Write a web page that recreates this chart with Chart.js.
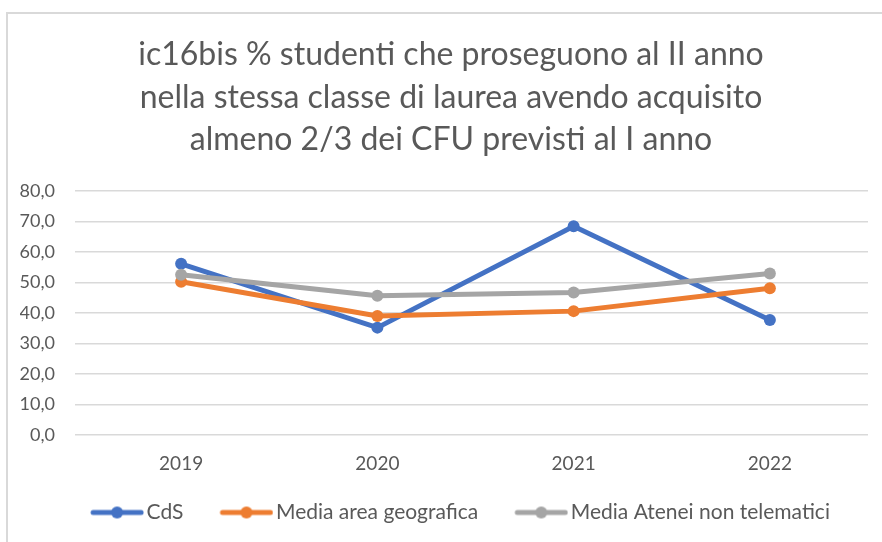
<!DOCTYPE html>
<html>
<head>
<meta charset="utf-8">
<script src="https://cdn.jsdelivr.net/npm/chart.js@4"></script>
<style>
  html, body { margin: 0; padding: 0; background: #fff; overflow: hidden; }
  #frame { position: absolute; left: 6px; top: 12px; width: 900px; height: 600px; border: 2px solid #d9d9d9; }
  #wrap { position: absolute; left: 0; top: 0; width: 882px; height: 542px; }
</style>
</head>
<body>
<div id="frame"></div>
<div id="wrap"><canvas id="ic16Chart" width="882" height="542"></canvas></div>
<script>
/* ic16bis — line chart */
var YEARS = ["2019", "2020", "2021", "2022"];
var CDS = [56.1, 35.2, 68.4, 37.7];
var MEDIA_AREA = [50.2, 39.0, 40.6, 48.1];
var MEDIA_ATENEI = [52.5, 45.6, 46.7, 52.9];
var SERIES_NAMES = ["CdS", "Media area geografica", "Media Atenei non telematici"];
var TITLE_LINES = [
  "ic16bis % studenti che proseguono al II anno",
  "nella stessa classe di laurea avendo acquisito",
  "almeno 2/3 dei CFU previsti al I anno"
];

var COLORS = { blue: "#4472c4", orange: "#ed7d31", gray: "#a5a5a5", text: "#595959", grid: "#d9d9d9" };
var FONT = "Lato, 'Liberation Sans', sans-serif";

/* legend marker: thick line with a dot, shifted right inside the image */
function legendMarker(color) {
  var c = document.createElement("canvas");
  c.width = 80; c.height = 14;
  var g = c.getContext("2d");
  g.strokeStyle = color;
  g.lineWidth = 5;
  g.lineCap = "round";
  g.beginPath(); g.moveTo(29, 7); g.lineTo(77, 7); g.stroke();
  g.fillStyle = color;
  g.beginPath(); g.arc(53, 7, 6, 0, Math.PI * 2); g.fill();
  return c;
}

function lineSet(label, data, color, order) {
  return {
    label: label, data: data, order: order,
    borderColor: color, backgroundColor: color,
    borderWidth: 5, pointRadius: 6, pointHoverRadius: 6,
    pointBackgroundColor: color, pointBorderWidth: 0,
    tension: 0, fill: false,
    legendImg: legendMarker(color)
  };
}

new Chart(document.getElementById("ic16Chart"), {
  type: "line",
  data: {
    labels: YEARS,
    datasets: [
      lineSet(SERIES_NAMES[0], CDS, COLORS.blue, 3),
      lineSet(SERIES_NAMES[1], MEDIA_AREA, COLORS.orange, 2),
      lineSet(SERIES_NAMES[2], MEDIA_ATENEI, COLORS.gray, 1)
    ]
  },
  options: {
    responsive: false,
    animation: false,
    layout: { padding: { left: 20, right: 0, top: 0, bottom: 9 } },
    plugins: {
      tooltip: { enabled: false },
      title: {
        display: true,
        text: TITLE_LINES,
        color: COLORS.text,
        font: { family: FONT, size: 32, weight: "normal", lineHeight: 1.32 },
        padding: { top: 34, bottom: 30 }
      },
      legend: {
        position: "bottom",
        align: "center",
        labels: {
          color: COLORS.text,
          font: { family: FONT, size: 21 },
          usePointStyle: true,
          pointStyleWidth: 64,
          padding: 18,
          generateLabels: function (chart) {
            var items = Chart.defaults.plugins.legend.labels.generateLabels(chart);
            items.forEach(function (it) {
              it.pointStyle = chart.data.datasets[it.datasetIndex].legendImg;
            });
            return items.sort(function (a, b) { return a.datasetIndex - b.datasetIndex; });
          }
        }
      }
    },
    scales: {
      x: {
        offset: true,
        grid: { display: false },
        border: { display: false },
        ticks: { color: COLORS.text, font: { family: FONT, size: 19 }, padding: 9 }
      },
      y: {
        min: 0, max: 80,
        grid: { color: COLORS.grid, lineWidth: 1.5 },
        border: { display: false },
        afterFit: function (axis) { axis.width = 63; },
        ticks: {
          stepSize: 10,
          color: COLORS.text,
          font: { family: FONT, size: 18 },
          padding: 20,
          callback: function (v) { return v.toFixed(1).replace(".", ","); }
        }
      },
      /* empty right-hand axis: keeps the plot clear of the right edge */
      yRight: {
        position: "right",
        grid: { display: false },
        border: { display: false },
        ticks: { display: false },
        afterFit: function (axis) { axis.width = 14; }
      }
    }
  }
});
</script>
</body>
</html>
